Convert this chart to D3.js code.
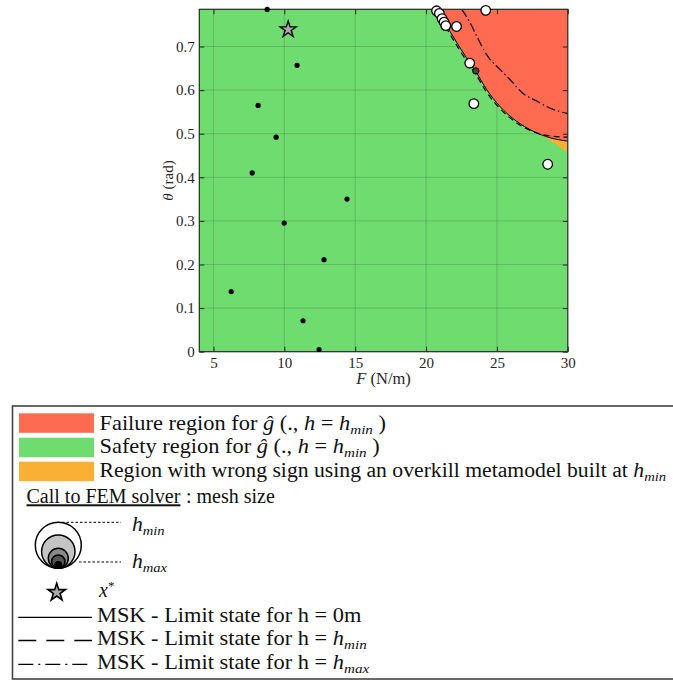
<!DOCTYPE html>
<html><head><meta charset="utf-8">
<script src="https://cdn.jsdelivr.net/npm/d3@7/dist/d3.min.js"></script>
<style>
body{margin:0;background:#fff;}
svg{display:block;font-family:"Liberation Serif","Times New Roman",serif;}
</style></head><body>
<svg id="chart" width="673" height="684"></svg>
<script>
// FEM calls at the coarsest mesh (h_max)
const coarseF = [8.79, 10.9, 8.15, 9.42, 7.73, 14.42, 9.99, 12.8, 6.25, 11.32, 12.45];
const coarseTheta = [0.785, 0.657, 0.565, 0.492, 0.41, 0.35, 0.295, 0.211, 0.138, 0.071, 0.005];
// FEM calls at the finest mesh (h_min)
const fineF = [20.74, 20.94, 21.13, 21.27, 21.39, 22.15, 24.21, 23.08, 23.37, 28.58];
const fineTheta = [0.782, 0.776, 0.764, 0.756, 0.748, 0.746, 0.783, 0.662, 0.569, 0.430];
// FEM call at an intermediate mesh size
const midF = [23.51];
const midTheta = [0.644];
// design point x*
const starF = [10.27];
const starTheta = [0.739];

// limit states
const lsH0F = [20.76, 21.68, 22.85, 23.56, 24.26, 25.20, 26.37, 27.54, 28.72, 30.0];
const lsH0Theta = [0.7854, 0.735, 0.674, 0.640, 0.602, 0.563, 0.529, 0.506, 0.491, 0.483];
const lsHminF = [20.70, 21.62, 22.80, 23.52, 24.22, 25.17, 26.35, 27.54, 28.72, 30.0];
const lsHminTheta = [0.7854, 0.732, 0.670, 0.636, 0.598, 0.559, 0.526, 0.505, 0.495, 0.492];
const lsHmaxF = [22.52, 23.08, 23.65, 24.26, 25.20, 25.90, 26.82, 27.80, 28.72, 30.0];
const lsHmaxTheta = [0.7854, 0.756, 0.719, 0.682, 0.648, 0.625, 0.593, 0.575, 0.559, 0.546];
// lower edge of the wrong-sign region
const wrongF = [28.0, 28.6, 29.3, 30.0];
const wrongTheta = [0.500, 0.488, 0.473, 0.456];

const xTicks = [5, 10, 15, 20, 25, 30];
const yTicks = [0, 0.1, 0.2, 0.3, 0.4, 0.5, 0.6, 0.7];

const C_FAIL = "#ff6b50", C_SAFE = "#6edc6e", C_WRONG = "#fbb034", INK = "#262626";

const svg = d3.select("#chart");
const x = d3.scaleLinear([4, 30], [199.3, 567.8]);
const y = d3.scaleLinear([0, Math.PI / 4], [351.7, 9.3]);
const [x0, x1] = x.range(), [yb, yt] = y.range();

const pts = (F, T) => F.map((f, i) => [f, T[i]]);

svg.append("clipPath").attr("id", "plotclip")
  .append("rect").attr("x", x0).attr("y", yt).attr("width", x1 - x0).attr("height", yb - yt);

// safe background
svg.append("rect").attr("x", x0).attr("y", yt).attr("width", x1 - x0).attr("height", yb - yt)
  .attr("fill", C_SAFE);

// grid
const grid = svg.append("g").attr("stroke", INK).attr("stroke-opacity", 0.18).attr("stroke-width", 1);
grid.selectAll(".gx").data(xTicks.filter(d => d < 30)).join("line")
  .attr("x1", d => x(d)).attr("x2", d => x(d)).attr("y1", yt).attr("y2", yb);
grid.selectAll(".gy").data(yTicks.filter(d => d > 0)).join("line")
  .attr("y1", d => y(d)).attr("y2", d => y(d)).attr("x1", x0).attr("x2", x1);

const regions = svg.append("g").attr("clip-path", "url(#plotclip)");
const areaTop = d3.area().x(d => x(d[0])).y0(d => y(d[1])).y1(y(Math.PI / 4)).curve(d3.curveMonotoneX);
regions.append("path").datum(pts(wrongF, wrongTheta)).attr("d", areaTop).attr("fill", C_WRONG);
regions.append("path").datum(pts(lsH0F, lsH0Theta)).attr("d", areaTop).attr("fill", C_FAIL);

// limit state curves
const line = d3.line().x(d => x(d[0])).y(d => y(d[1])).curve(d3.curveMonotoneX);
regions.append("path").datum(pts(lsHmaxF, lsHmaxTheta)).attr("d", line)
  .attr("fill", "none").attr("stroke", "#000").attr("stroke-width", 1.2).attr("stroke-dasharray", "9,3,1.5,3");
regions.append("path").datum(pts(lsHminF, lsHminTheta)).attr("d", line)
  .attr("fill", "none").attr("stroke", "#000").attr("stroke-width", 1.2).attr("stroke-dasharray", "6,4");
regions.append("path").datum(pts(lsH0F, lsH0Theta)).attr("d", line)
  .attr("fill", "none").attr("stroke", "#000").attr("stroke-width", 1);

// axes
const fmtY = d => d === 0 ? "0" : d.toFixed(1);
const styleAxis = g => {
  g.select(".domain").remove();
  g.selectAll(".tick line").attr("stroke", INK);
  g.selectAll(".tick text").attr("fill", INK).attr("font-size", 15)
    .attr("font-family", "Liberation Serif, serif");
};
svg.append("g").attr("transform", `translate(0,${yb})`)
  .call(d3.axisBottom(x).tickValues(xTicks).tickSize(-5).tickPadding(5.5)).call(styleAxis);
svg.append("g").attr("transform", `translate(0,${yt})`)
  .call(d3.axisTop(x).tickValues(xTicks).tickSize(-5).tickFormat("")).call(styleAxis);
svg.append("g").attr("transform", `translate(${x0},0)`)
  .call(d3.axisLeft(y).tickValues(yTicks).tickSize(-5).tickPadding(4.5).tickFormat(fmtY)).call(styleAxis);
svg.append("g").attr("transform", `translate(${x1},0)`)
  .call(d3.axisRight(y).tickValues(yTicks).tickSize(-5).tickFormat("")).call(styleAxis);
svg.append("rect").attr("x", x0).attr("y", yt).attr("width", x1 - x0).attr("height", yb - yt)
  .attr("fill", "none").attr("stroke", INK).attr("stroke-width", 1.2);

// axis titles
const xt = svg.append("text").attr("x", (x0 + x1) / 2).attr("y", 384).attr("text-anchor", "middle")
  .attr("font-size", 16.5).attr("fill", INK);
xt.append("tspan").attr("font-style", "italic").text("F");
xt.append("tspan").text(" (N/m)");
const yl = svg.append("text").attr("transform", `translate(172.5,${(yt + yb) / 2}) rotate(-90)`)
  .attr("text-anchor", "middle").attr("font-size", 15).attr("fill", INK);
yl.append("tspan").attr("font-style", "italic").text("θ");
yl.append("tspan").text(" (rad)");

// markers
const star = d3.symbol().type(d3.symbolStar);
svg.append("g").selectAll("circle").data(pts(coarseF, coarseTheta)).join("circle")
  .attr("cx", d => x(d[0])).attr("cy", d => y(d[1])).attr("r", 2.6).attr("fill", "#000");
svg.append("g").selectAll("circle").data(pts(midF, midTheta)).join("circle")
  .attr("cx", d => x(d[0])).attr("cy", d => y(d[1])).attr("r", 3.2).attr("fill", "#444")
  .attr("stroke", "#000").attr("stroke-width", 1);
svg.append("g").selectAll("circle").data(pts(fineF, fineTheta)).join("circle")
  .attr("cx", d => x(d[0])).attr("cy", d => y(d[1])).attr("r", 4.8).attr("fill", "#fff")
  .attr("stroke", "#000").attr("stroke-width", 1.3);
svg.append("g").selectAll("path").data(pts(starF, starTheta)).join("path")
  .attr("transform", d => `translate(${x(d[0])},${y(d[1])})`).attr("d", star.size(80))
  .attr("fill", "#aaa").attr("stroke", "#000").attr("stroke-width", 1.4);

// ---------- legend ----------
const LFS = 20;
const leg = svg.append("g");
leg.append("rect").attr("x", 12.5).attr("y", 406).attr("width", 700).attr("height", 273)
  .attr("fill", "#fff").attr("stroke", "#444").attr("stroke-width", 1.6);

// writes a run of plain / italic / subscript pieces, optionally widened
function richText(g, xPos, yPos, parts, sx = 1) {
  const t = g.append("text").attr("transform", `translate(${xPos},${yPos}) scale(${sx},1)`)
    .attr("font-size", LFS).attr("fill", "#111");
  let shifted = 0;
  parts.forEach(p => {
    const s = t.append("tspan").text(p.t);
    if (p.i) s.attr("font-style", "italic");
    const want = p.sub ? 4 : 0;
    if (want !== shifted) { s.attr("dy", want - shifted); shifted = want; }
    if (p.sub) s.attr("font-size", 13.5);
  });
  return t;
}
const WIDE = 1.12;
const ghat = [{ t: "ĝ", i: 1 }, { t: " (., " }, { t: "h", i: 1 }, { t: " =  " }, { t: "h", i: 1 }, { t: "min", i: 1, sub: 1 }, { t: " )" }];

const swatches = [
  { c: C_FAIL, y: 413.3, base: 429.5, sx: WIDE, parts: [{ t: "Failure region for " }, ...ghat] },
  { c: C_SAFE, y: 437.7, base: 453, sx: WIDE, parts: [{ t: "Safety region for " }, ...ghat] },
  { c: C_WRONG, y: 461.7, base: 476.8, sx: 1.085, parts: [{ t: "Region with wrong sign using an overkill metamodel built at " }, { t: "h", i: 1 }, { t: "min", i: 1, sub: 1 }] }
];
swatches.forEach(s => {
  leg.append("rect").attr("x", 19).attr("y", s.y).attr("width", 75).attr("height", 19.5).attr("fill", s.c);
  richText(leg, 99.5, s.base, s.parts, s.sx);
});

const call = richText(leg, 26.5, 503.3, [{ t: "Call to FEM solver" }]);
call.attr("text-decoration", "underline");
richText(leg, 186, 503.3, [{ t: ": mesh size" }]);

// nested mesh-size circles, tangent at the bottom
const meshR = [23, 16.7, 10, 6.7, 3.3];
const meshFill = ["#fff", "#c4c4c4", "#8a8a8a", "#555", "#000"];
const cx = 58.3, bottom = 568.3;
leg.selectAll(".mesh").data(meshR).join("circle")
  .attr("cx", cx).attr("cy", r => bottom - r).attr("r", r => r)
  .attr("fill", (r, i) => meshFill[i]).attr("stroke", "#000").attr("stroke-width", 1.5);
leg.append("line").attr("x1", 62).attr("x2", 121).attr("y1", 522.3).attr("y2", 522.3)
  .attr("stroke", "#000").attr("stroke-dasharray", "2.5,2");
leg.append("line").attr("x1", 79).attr("x2", 121).attr("y1", 562).attr("y2", 562)
  .attr("stroke", "#000").attr("stroke-dasharray", "2.5,2");
richText(leg, 132, 530.5, [{ t: "h", i: 1 }, { t: "min", i: 1, sub: 1 }], 1.08);
richText(leg, 132, 568, [{ t: "h", i: 1 }, { t: "max", i: 1, sub: 1 }], 1.08);

leg.append("path").attr("transform", "translate(56.7,592.5)").attr("d", star.size(95))
  .attr("fill", "#aaa").attr("stroke", "#000").attr("stroke-width", 1.6);
const xs = richText(leg, 99, 596.5, [{ t: "x", i: 1 }]);
xs.append("tspan").attr("dy", -7).attr("font-size", 13).text("*");

const lineKeys = [
  { y: 617.3, dash: null, base: 621.7, parts: [{ t: "MSK - Limit state for h = 0m" }] },
  { y: 640.5, dash: "18,10", base: 645.3, parts: [{ t: "MSK - Limit state for h = " }, { t: "h", i: 1 }, { t: "min", i: 1, sub: 1 }] },
  { y: 664.3, dash: "15,5,2,5", base: 669.3, parts: [{ t: "MSK - Limit state for h = " }, { t: "h", i: 1 }, { t: "max", i: 1, sub: 1 }] }
];
lineKeys.forEach(k => {
  const l = leg.append("line").attr("x1", 18.3).attr("x2", 92).attr("y1", k.y).attr("y2", k.y)
    .attr("stroke", "#000").attr("stroke-width", 1.3);
  if (k.dash) l.attr("stroke-dasharray", k.dash);
  richText(leg, 97, k.base, k.parts, WIDE);
});
</script>
</body></html>
